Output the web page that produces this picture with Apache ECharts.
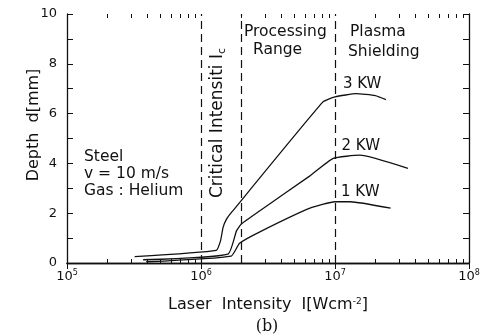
<!DOCTYPE html>
<html>
<head>
<meta charset="utf-8">
<script src="https://cdn.jsdelivr.net/npm/echarts@6/dist/echarts.min.js"></script>
<style>
  html, body { margin: 0; padding: 0; background: #fff; }
  #chart { width: 483px; height: 334px; }
</style>
</head>
<body>
<div id="chart"></div>
<script>
// 读图估计的数据 (intensity in W/cm², depth in mm)
var kw3Intensity = [3.2e5, 1.3e6, 1.4e6, 1.46e6, 1.55e6, 1.7e6, 8.1e6, 1e7, 1.44e7, 2e7, 2.4e7]
var kw3Depth = [0.26, 0.51, 0.9, 1.42, 1.76, 2.05, 6.46, 6.67, 6.8, 6.72, 6.56]
var kw2Intensity = [3.7e5, 1.59e6, 1.84e6, 2e6, 2.75e6, 6.5e6, 9.7e6, 1.53e7, 3.5e7]
var kw2Depth = [0.13, 0.36, 1.29, 1.57, 2.1, 3.5, 4.2, 4.33, 3.8]
var kw1Intensity = [3.9e5, 1.68e6, 1.94e6, 2.75e6, 6.5e6, 1e7, 1.3e7, 2.6e7]
var kw1Depth = [0.05, 0.28, 0.79, 1.25, 2.2, 2.46, 2.46, 2.2]
var seriesNames = ['3 KW', '2 KW', '1 KW']
var labelIndex = [8, 7, 6] // which point carries the power label
var dashedAt = [1e6, 2e6, 1e7]
var majorTicks = [1e5, 1e6, 1e7, 1e8]
var minorTicks = [2e5, 3e5, 4e5, 5e5, 6e5, 7e5, 8e5, 9e5,
  2e6, 3e6, 4e6, 5e6, 6e6, 7e6, 8e6, 9e6,
  2e7, 3e7, 4e7, 5e7, 6e7, 7e7, 8e7, 9e7]
var xMin = 1e5
var xMax = 1e8
var yMin = 0
var yMax = 10

var ink = '#111'
var font = 'DejaVu Sans'
var labelShift = [[6, 0], [1, 0], [10, 0]]

function pairs(xs, ys, name, idx, shift) {
  return xs.map(function (x, i) {
    var item = { value: [x, ys[i]] }
    if (i === idx) {
      item.label = { show: true, formatter: name, position: 'top', distance: 2, offset: shift,
        color: ink, fontFamily: font, fontSize: 15 }
    }
    return item
  })
}

var chart = echarts.init(document.getElementById('chart'))

var supRich = {
  b: { fontSize: 13, fontFamily: font, color: ink, lineHeight: 16 },
  s: { fontSize: 8, fontFamily: font, color: ink, verticalAlign: 'top', lineHeight: 8 }
}

function logAxis(pos, showLabel, ticks, len, showLine) {
  return {
    type: 'log',
    logBase: 10,
    min: xMin,
    max: xMax,
    position: pos,
    axisLine: { show: showLine, lineStyle: { color: ink, width: 1.3 } },
    axisTick: { show: true, inside: true, length: len, customValues: ticks, lineStyle: { color: ink, width: 1 } },
    splitLine: { show: false },
    axisLabel: {
      show: showLabel,
      margin: 6,
      customValues: majorTicks,
      formatter: function (v) {
        return '{b|10}{s|' + Math.round(Math.log10(v)) + '}'
      },
      rich: supRich
    },
    name: showLabel ? 'Laser  Intensity  I[Wcm{s|-2}]' : '',
    nameLocation: 'middle',
    nameGap: 34,
    nameTextStyle: {
      color: ink, fontFamily: font, fontSize: 16,
      rich: {
        s: { fontSize: 9, fontFamily: font, color: ink, verticalAlign: 'top', lineHeight: 8 }
      }
    }
  }
}

function depthAxis(pos, showLabel) {
  return {
    type: 'value',
    min: yMin,
    max: yMax,
    interval: 2,
    position: pos,
    axisLine: { show: true, lineStyle: { color: ink, width: 1.3 } },
    axisTick: { show: true, inside: true, length: 6, lineStyle: { color: ink, width: 1 } },
    minorTick: { show: true, splitNumber: 2, length: 6, lineStyle: { color: ink, width: 1 } },
    splitLine: { show: false },
    axisLabel: { show: showLabel, color: ink, fontFamily: font, fontSize: 13, margin: 10 }
  }
}

var allX = [kw3Intensity, kw2Intensity, kw1Intensity]
var allY = [kw3Depth, kw2Depth, kw1Depth]

var series = seriesNames.map(function (n, k) {
  var s = {
    name: n,
    type: 'line',
    xAxisIndex: 0,
    yAxisIndex: 0,
    showSymbol: true,
    symbol: 'circle',
    symbolSize: 0,
    smooth: 0.15,
    lineStyle: { color: ink, width: 1.3 },
    itemStyle: { color: ink },
    data: pairs(allX[k], allY[k], n, labelIndex[k], labelShift[k])
  }
  if (k === 0) {
    s.markLine = {
      silent: true,
      symbol: ['none', 'none'],
      label: { show: false },
      lineStyle: { color: ink, width: 1.2, type: [8, 5] },
      data: dashedAt.map(function (v) { return { xAxis: v } })
    }
  }
  return s
})

var txt = { fill: ink, font: '15.5px "DejaVu Sans"' }

var option = {
  backgroundColor: '#fff',
  animation: false,
  grid: { left: 67, right: 14, top: 14, bottom: 71, containLabel: false },
  xAxis: [
    logAxis('bottom', true, majorTicks, 6, true),
    logAxis('top', false, majorTicks, 6, true),
    logAxis('bottom', false, minorTicks, 4, false),
    logAxis('top', false, minorTicks, 4, false)
  ],
  yAxis: [depthAxis('left', true), depthAxis('right', false)],
  series: series,
  graphic: [
    { type: 'text', x: 34, y: 125, rotation: Math.PI / 2,
      style: { text: 'Depth  d[mm]', fill: ink, font: '16px "DejaVu Sans"', align: 'center', verticalAlign: 'middle' } },
    { type: 'text', x: 84, y: 157, style: Object.assign({ text: 'Steel', verticalAlign: 'middle' }, txt) },
    { type: 'text', x: 84, y: 174, style: Object.assign({ text: 'v = 10 m/s', verticalAlign: 'middle' }, txt) },
    { type: 'text', x: 84, y: 191, style: Object.assign({ text: 'Gas : Helium', verticalAlign: 'middle' }, txt) },
    { type: 'text', x: 244, y: 32, style: Object.assign({ text: 'Processing', verticalAlign: 'middle' }, txt) },
    { type: 'text', x: 253, y: 50, style: Object.assign({ text: 'Range', verticalAlign: 'middle' }, txt) },
    { type: 'text', x: 350, y: 32, style: Object.assign({ text: 'Plasma', verticalAlign: 'middle' }, txt) },
    { type: 'text', x: 348, y: 52, style: Object.assign({ text: 'Shielding', verticalAlign: 'middle' }, txt) },
    { type: 'text', x: 218, y: 198, rotation: Math.PI / 2,
      style: {
        text: 'Critical Intensiti {i|I}{c|c}', fill: ink, font: '17px "DejaVu Sans"',
        align: 'left', verticalAlign: 'middle',
        rich: {
          i: { fontSize: 17, fontFamily: font, fill: ink },
          c: { fontSize: 11, fontFamily: font, fill: ink, verticalAlign: 'bottom', padding: [9, 0, 0, 0] }
        }
      } },
    { type: 'text', x: 267, y: 327,
      style: { text: '(b)', fill: ink, font: '16px "DejaVu Serif"', align: 'center', verticalAlign: 'middle' } }
  ]
}

chart.setOption(option)
</script>
</body>
</html>
